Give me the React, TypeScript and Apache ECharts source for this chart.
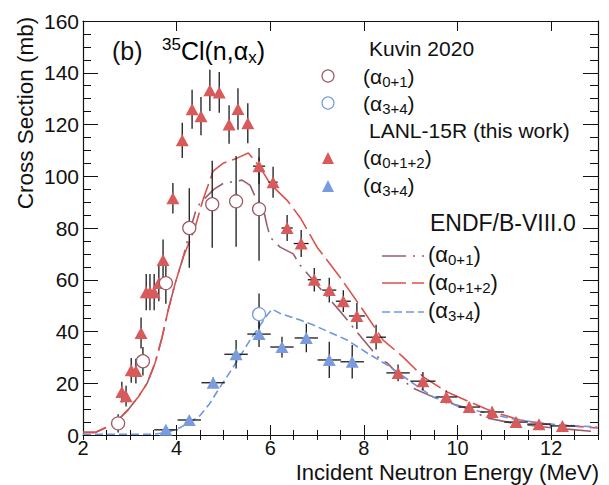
import React, { useEffect, useRef } from "react";
import * as echarts from "echarts";

const FONT = "'Liberation Sans', Arial, Helvetica, sans-serif";

// LANL-15R (this work), alpha 0+1+2
const lanl012E = [2.83, 2.92, 3.03, 3.13, 3.24, 3.35, 3.43, 3.52, 3.62, 3.71, 3.92, 4.12, 4.33, 4.52, 4.71, 4.91, 5.12, 5.31, 5.52, 5.76, 6.06, 6.36, 6.66, 6.94, 7.26, 7.56, 7.85, 8.26, 8.73, 9.26, 9.76, 10.25, 10.74, 11.25, 11.74, 12.24];
const lanl012Sigma = [16.6, 15, 25, 24.7, 39.4, 55.2, 55.2, 55.2, 58.7, 67.6, 91.5, 113.9, 125.9, 123.2, 133.2, 132.4, 120, 126, 120.5, 103.9, 97.7, 80, 74, 60, 56, 51.7, 46, 37.8, 24, 20.8, 14.7, 10.8, 8.9, 5, 4.2, 3.5];
const lanl012dE = [0.04, 0.04, 0.04, 0.04, 0.04, 0.04, 0.04, 0.04, 0.04, 0.04, 0.04, 0.06, 0.06, 0.06, 0.06, 0.06, 0.06, 0.06, 0.06, 0.13, 0.1, 0.12, 0.16, 0.14, 0.15, 0.16, 0.17, 0.21, 0.25, 0.27, 0.23, 0.23, 0.25, 0.25, 0.25, 0.27];
const lanl012dSigma = [4, 4, 4.8, 4.8, 6, 7, 7, 7, 7, 8, 5.9, 6.8, 7.5, 7.4, 8, 7.9, 7.4, 8, 7.7, 7, 6, 5, 5.2, 4.5, 4.8, 4.2, 5, 4.8, 3.2, 3.5, 2.5, 2, 2, 1.5, 1.2, 1.2];

// LANL-15R (this work), alpha 3+4
const lanl34E = [3.77, 4.27, 4.78, 5.27, 5.76, 6.25, 6.77, 7.26, 7.75];
const lanl34Sigma = [2, 5.8, 20.2, 31.2, 39, 34, 37.5, 29, 28.3];
const lanl34dE = [0.25, 0.25, 0.25, 0.25, 0.25, 0.25, 0.25, 0.25, 0.25];
const lanl34dSigma = [1, 1.2, 2, 5.5, 5, 4, 5.5, 7, 6.5];

// Kuvin 2020, alpha 0+1
const kuvin01E = [2.75, 3.28, 3.77, 4.27, 4.76, 5.27, 5.76];
const kuvin01Sigma = [4.5, 28.5, 58.7, 80, 89.2, 90.3, 87.3];
const kuvin01dSigma = [3.5, 5.5, 8, 15.4, 16.8, 17.5, 20];

// Kuvin 2020, alpha 3+4
const kuvin34E = [5.76];
const kuvin34Sigma = [46.7];
const kuvin34dSigma = [8];

// ENDF/B-VIII.0 curves
const endf01E = [2.0, 2.26, 2.47, 2.75, 2.96, 3.18, 3.37, 3.54, 3.69, 3.82, 3.97, 4.14, 4.3, 4.43, 4.56, 4.8, 5.0, 5.4, 5.57, 5.68, 5.85, 5.93, 6.0, 6.21, 6.49, 6.64, 7.0, 7.53, 7.85, 8.35, 8.5, 9.0, 9.63, 10.12, 10.63, 11.2, 12.0, 13.0];
const endf01Sigma = [1.0, 1.0, 2.7, 5.8, 9.7, 14.7, 20, 27.8, 37.8, 48.3, 58.7, 68.7, 80, 88, 90.7, 95, 97.3, 98.5, 96.5, 92, 87.6, 81, 76.4, 72.6, 70, 65.6, 58, 47, 39.8, 29, 27.8, 18.5, 13.5, 10.8, 6.6, 4.5, 2.8, 1.2];

const endf012E = [2.0, 2.26, 2.47, 2.75, 2.96, 3.18, 3.37, 3.54, 3.69, 3.82, 3.97, 4.14, 4.39, 4.56, 4.78, 4.99, 5.29, 5.53, 5.78, 6.0, 6.36, 6.64, 7.0, 7.49, 7.98, 8.41, 8.84, 9.27, 9.78, 10.27, 10.76, 11.34, 11.91, 13.0];
const endf012Sigma = [1.0, 1.0, 2.7, 5.8, 9.7, 14.7, 20, 27.8, 37.8, 48.3, 58.7, 68.7, 80, 90.7, 102, 105, 107, 109, 103.5, 97, 90.7, 84, 72.6, 61, 48.3, 36.7, 30.1, 22.4, 16.6, 12.7, 8.9, 5.8, 4.2, 2.7];

const endf34E = [2.0, 3.5, 3.8, 4.03, 4.25, 4.5, 4.7, 4.86, 5.2, 5.57, 5.93, 6.04, 6.21, 6.64, 6.92, 7.64, 8.07, 8.5, 9.05, 9.48, 10.06, 10.63, 11.19, 11.91, 12.98];
const endf34Sigma = [0.3, 0.3, 1, 2.5, 4.5, 7.5, 12, 16.6, 26, 36.7, 46.3, 48.6, 47, 44.4, 42.5, 36.7, 31.7, 27, 20, 14.7, 10.8, 8.5, 6.2, 4.2, 3.1];

// Axis ticks
const xMin = 2, xMax = 13, xMajor = 2, xMinor = 0.5;
const yMin = 0, yMax = 160, yMajor = 20;

const RED = "#d85a5b";
const BLUE = "#7a9be0";
const BROWN = "#9c5a66";
const RED_LINE = "#d9524f";
const BROWN_LINE = "#9a5e6a";
const BLUE_LINE = "#6f95e2";

const zip = (a: number[], b: number[]) => a.map((v, i) => [v, b[i]]);
const zip4 = (a: number[], b: number[], c: number[], d: number[]) => a.map((v, i) => [v, b[i], c[i], d[i]]);

const errRender = (_params: any, api: any) => {
  const x = api.value(0), y = api.value(1), dx = api.value(2), dy = api.value(3);
  const c = api.coord([x, y]);
  const l = api.coord([x - dx, y]);
  const r = api.coord([x + dx, y]);
  const t = api.coord([x, y + dy]);
  const b = api.coord([x, y - dy]);
  const style = { stroke: "#1a1a1a", lineWidth: 1.3 };
  const children: any[] = [];
  if (dy > 0) children.push({ type: "line", shape: { x1: c[0], y1: t[1], x2: c[0], y2: b[1] }, style });
  if (dx > 0) children.push({ type: "line", shape: { x1: l[0], y1: c[1], x2: r[0], y2: c[1] }, style });
  return { type: "group", children };
};

const subRich = (fs: number) => ({
  n: { fontSize: fs, fontFamily: FONT, color: "#111", lineHeight: fs + 4 },
  s: { fontSize: Math.round(fs * 0.7), fontFamily: FONT, color: "#111", lineHeight: 10, verticalAlign: "bottom" },
});

const richText = (x: number, y: number, text: string, fs = 21) => ({
  type: "text",
  x,
  y,
  style: { text, fill: "#111", font: `${fs}px ${FONT}`, rich: subRich(fs), verticalAlign: "middle", align: "left" },
});

const plainText = (x: number, y: number, text: string, fs = 21) => ({
  type: "text",
  x,
  y,
  style: { text, fill: "#111", font: `${fs}px ${FONT}`, verticalAlign: "middle", align: "left" },
});

const tri = (cx: number, cy: number, color: string) => ({
  type: "polygon",
  shape: { points: [[cx, cy - 6], [cx + 6, cy + 6], [cx - 6, cy + 6]] },
  style: { fill: color },
});

export default function App() {
  const ref = useRef<HTMLDivElement>(null);
  useEffect(() => {
    if (!ref.current) return;
    const chart = echarts.init(ref.current, null, { renderer: "svg" });
    const axisBase = {
      type: "value",
      min: xMin,
      max: xMax,
      splitLine: { show: false },
      axisLine: { show: true, onZero: false, lineStyle: { color: "#111", width: 1.2 } },
    };
    const yBase = {
      type: "value",
      min: yMin,
      max: yMax,
      interval: yMajor,
      splitLine: { show: false },
      axisLine: { show: true, onZero: false, lineStyle: { color: "#111", width: 1.2 } },
      axisTick: { show: true, inside: true, length: 15, lineStyle: { color: "#111" } },
      minorTick: { show: true, splitNumber: 4, length: 8, lineStyle: { color: "#111" } },
    };
    const option: any = {
      animation: false,
      backgroundColor: "#fff",
      grid: { left: 83, right: 11, top: 21, bottom: 50, containLabel: false },
      xAxis: [
        {
          ...axisBase,
          position: "bottom",
          interval: xMajor,
          axisTick: { show: true, inside: true, length: 10, lineStyle: { color: "#111" } },
          axisLabel: { show: true, showMaxLabel: false, fontSize: 20, fontFamily: FONT, color: "#111", margin: 3 },
        },
        {
          ...axisBase,
          position: "top",
          interval: xMajor,
          axisTick: { show: true, inside: true, length: 10, lineStyle: { color: "#111" } },
          axisLabel: { show: false },
        },
        {
          ...axisBase,
          position: "bottom",
          interval: xMinor,
          axisLine: { show: false },
          axisTick: { show: true, inside: true, length: 5, lineStyle: { color: "#111" } },
          axisLabel: { show: false },
        },
        {
          ...axisBase,
          position: "top",
          interval: xMinor,
          axisLine: { show: false },
          axisTick: { show: true, inside: true, length: 5, lineStyle: { color: "#111" } },
          axisLabel: { show: false },
        },
      ],
      yAxis: [
        {
          ...yBase,
          position: "left",
          axisLabel: { show: true, fontSize: 21, fontFamily: FONT, color: "#111", margin: 4 },
        },
        {
          ...yBase,
          position: "right",
          axisLabel: { show: false },
        },
      ],
      series: [
        {
          type: "line",
          name: "ENDF (α0+1)",
          data: zip(endf01E, endf01Sigma),
          showSymbol: false,
          symbol: "none",
          lineStyle: { color: BROWN_LINE, width: 1.6, type: [24, 7, 2, 7] },
          z: 2,
        },
        {
          type: "line",
          name: "ENDF (α0+1+2)",
          data: zip(endf012E, endf012Sigma),
          showSymbol: false,
          symbol: "none",
          lineStyle: { color: RED_LINE, width: 1.6, type: [24, 6] },
          z: 2,
        },
        {
          type: "line",
          name: "ENDF (α3+4)",
          data: zip(endf34E, endf34Sigma),
          showSymbol: false,
          symbol: "none",
          lineStyle: { color: BLUE_LINE, width: 1.6, type: [8, 4] },
          z: 2,
        },
        {
          type: "custom",
          name: "err LANL 0+1+2",
          renderItem: errRender,
          data: zip4(lanl012E, lanl012Sigma, lanl012dE, lanl012dSigma),
          encode: { x: 0, y: 1 },
          z: 3,
          silent: true,
        },
        {
          type: "custom",
          name: "err LANL 3+4",
          renderItem: errRender,
          data: zip4(lanl34E, lanl34Sigma, lanl34dE, lanl34dSigma),
          encode: { x: 0, y: 1 },
          z: 3,
          silent: true,
        },
        {
          type: "custom",
          name: "err Kuvin 0+1",
          renderItem: errRender,
          data: zip4(kuvin01E, kuvin01Sigma, kuvin01E.map(() => 0), kuvin01dSigma),
          encode: { x: 0, y: 1 },
          z: 3,
          silent: true,
        },
        {
          type: "custom",
          name: "err Kuvin 3+4",
          renderItem: errRender,
          data: zip4(kuvin34E, kuvin34Sigma, kuvin34E.map(() => 0), kuvin34dSigma),
          encode: { x: 0, y: 1 },
          z: 3,
          silent: true,
        },
        {
          type: "scatter",
          name: "LANL (α0+1+2)",
          data: zip(lanl012E, lanl012Sigma),
          symbol: "triangle",
          symbolSize: [13, 12],
          itemStyle: { color: RED, opacity: 1 },
          z: 4,
        },
        {
          type: "scatter",
          name: "LANL (α3+4)",
          data: zip(lanl34E, lanl34Sigma),
          symbol: "triangle",
          symbolSize: [13, 12],
          itemStyle: { color: BLUE, opacity: 1 },
          z: 4,
        },
        {
          type: "scatter",
          name: "Kuvin (α0+1)",
          data: zip(kuvin01E, kuvin01Sigma),
          symbol: "circle",
          symbolSize: 13,
          itemStyle: { color: "#fff", borderColor: BROWN, borderWidth: 1.3, opacity: 1 },
          z: 4,
        },
        {
          type: "scatter",
          name: "Kuvin (α3+4)",
          data: zip(kuvin34E, kuvin34Sigma),
          symbol: "circle",
          symbolSize: 13,
          itemStyle: { color: "#fff", borderColor: BLUE, borderWidth: 1.3, opacity: 1 },
          z: 4,
        },
      ],
      graphic: [
        // Panel title
        plainText(112, 51, "(b)", 25),
        {
          type: "text",
          x: 162,
          y: 51,
          z: 10,
          style: {
            text: "{sup|35}{n|Cl(n,α}{sub|x}{n|)}",
            verticalAlign: "middle",
            align: "left",
            rich: {
              n: { fontSize: 25, fontFamily: FONT, color: "#111", lineHeight: 30 },
              sup: { fontSize: 17, fontFamily: FONT, color: "#111", lineHeight: 10, verticalAlign: "top" },
              sub: { fontSize: 17, fontFamily: FONT, color: "#111", lineHeight: 10, verticalAlign: "bottom" },
            },
          },
        },
        // Kuvin legend
        plainText(369, 48, "Kuvin 2020"),
        { type: "circle", shape: { cx: 328, cy: 76, r: 6 }, style: { fill: "#fff", stroke: BROWN, lineWidth: 1.2 } },
        richText(363, 76, "{n|(α}{s|0+1}{n|)}"),
        { type: "circle", shape: { cx: 328, cy: 103, r: 6 }, style: { fill: "#fff", stroke: BLUE, lineWidth: 1.2 } },
        richText(363, 103, "{n|(α}{s|3+4}{n|)}"),
        // LANL legend
        plainText(369, 130, "LANL-15R (this work)"),
        tri(328, 158, RED),
        richText(363, 157, "{n|(α}{s|0+1+2}{n|)}"),
        tri(328, 186, BLUE),
        richText(363, 185, "{n|(α}{s|3+4}{n|)}"),
        // ENDF legend
        plainText(430, 223, "ENDF/B-VIII.0", 23),
        { type: "line", shape: { x1: 382, y1: 256, x2: 424, y2: 256 }, style: { stroke: BROWN_LINE, lineWidth: 1.6, lineDash: [24, 7, 2, 7] } },
        richText(428, 254, "{n|(α}{s|0+1}{n|)}", 22),
        { type: "line", shape: { x1: 382, y1: 283, x2: 424, y2: 283 }, style: { stroke: RED_LINE, lineWidth: 1.6, lineDash: [24, 6] } },
        richText(428, 282, "{n|(α}{s|0+1+2}{n|)}", 22),
        { type: "line", shape: { x1: 382, y1: 312, x2: 424, y2: 312 }, style: { stroke: BLUE_LINE, lineWidth: 1.6, lineDash: [8, 4] } },
        richText(428, 310, "{n|(α}{s|3+4}{n|)}", 22),
        // Axis titles
        {
          type: "text",
          x: 599,
          y: 472,
          style: { text: "Incident Neutron Energy (MeV)", fill: "#111", font: `22px ${FONT}`, align: "right", verticalAlign: "middle" },
        },
        {
          type: "text",
          x: 25,
          y: 113,
          rotation: Math.PI / 2,
          style: { text: "Cross Section (mb)", fill: "#111", font: `22.5px ${FONT}`, align: "center", verticalAlign: "middle" },
        },
      ],
    };
    chart.setOption(option);
    return () => chart.dispose();
  }, []);
  return <div ref={ref} style={{ position: "fixed", left: 0, top: 0, width: 609, height: 485 }} />;
}
